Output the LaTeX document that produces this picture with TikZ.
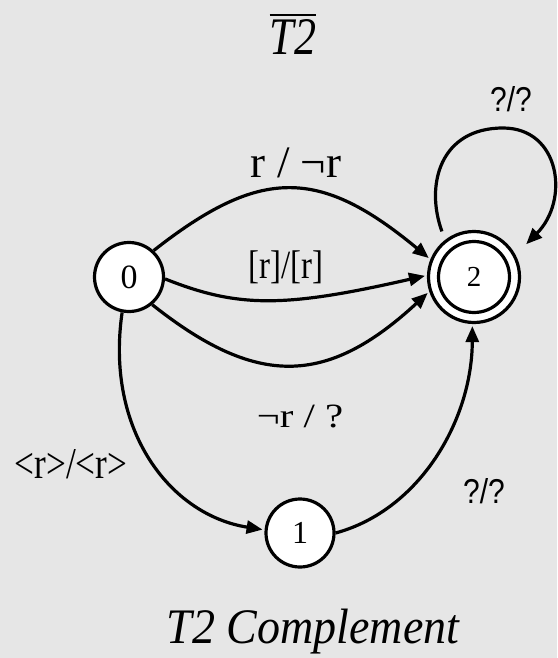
\documentclass[tikz,border=0pt]{standalone}
\usepackage{graphicx}
\usepackage{fontspec}
\setmainfont{Liberation Serif}
\newfontfamily\sansf{Liberation Sans}
\usetikzlibrary{arrows.meta}
\definecolor{bg}{HTML}{E6E6E6}
\newcommand\fs[1]{\fontsize{#1}{#1}\selectfont}
\begin{document}
\begin{tikzpicture}[x=1pt,y=-1pt,
  state/.style={circle,draw,fill=white,line width=3.2pt,inner sep=0pt},
  edge/.style={line width=3.2pt,-{Triangle[length=16pt,width=13pt]},shorten >=2pt},
  lab/.style={inner sep=0pt,anchor=base}]
\fill[bg] (0,0) rectangle (557,658);
\useasboundingbox (0,0) rectangle (557,658);

% states
\node[state,minimum size=69pt] (n0) at (129,277) {\fs{34}0};
\node[state,minimum size=68pt] (n1) at (300,533) {\fs{32}1};
\node[state,minimum size=91pt] (n2) at (474,277) {};
\node[state,minimum size=71pt] (n2i) at (n2) {\fs{29}2};

% transitions
\draw[edge] (n0.47) .. controls (260,167) and (319,167) .. (n2.158);
\draw[edge] (n0.-3) .. controls (238,308) and (284,308) .. (n2.178);
\draw[edge] (n0.-50) .. controls (256,387) and (326,387) .. (n2.198);
\draw[edge] (n0.-101) .. controls (105,430) and (170,515) .. (n1.175);
\draw[edge] (n1.east) .. controls (420,510) and (472,420) .. (n2.-92);
\draw[edge,shorten <=9pt,shorten >=15pt] (n2.128) .. controls (425,185) and (440,128) .. (503,128) .. controls (560,128) and (570,200) .. (n2.28);

% labels
\node[lab] (l1) at (296,177) {\fs{45}r / ¬r};
\node[lab] (l2) at (286,278) {\scalebox{0.82}[1]{\fs{40}[r]/[r]}};
\node[lab] (l3) at (300,427) {\scalebox{1.2}[1]{\fs{34}¬r / ?}};
\node[lab] (l4) at (71,478) {\scalebox{0.8}[1]{\fs{44}<r>/<r>}};
\node[lab] (l5) at (484,503) {\scalebox{1}[1.15]{\sansf\fs{30}?/?}};
\node[lab] (l6) at (511,112) {\scalebox{1}[1.15]{\sansf\fs{30}?/?}};

% title and caption
\node[lab] (title) at (293,55) {\scalebox{1}[1.2]{\itshape\fs{44}T2}};
\draw[line width=2.4pt] ([yshift=5pt]title.north west) -- ([yshift=5pt]title.north east);
\node[lab] (cap) at (313,643) {\scalebox{1}[1.08]{\itshape\fs{46}T2 Complement}};
\end{tikzpicture}
\end{document}
